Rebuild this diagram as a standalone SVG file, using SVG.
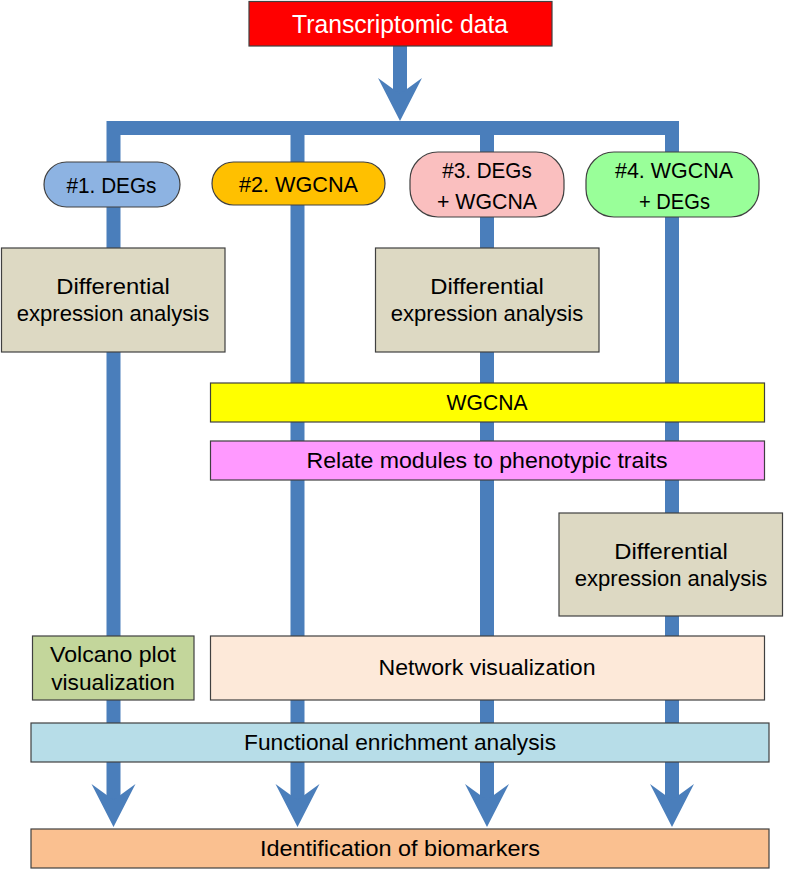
<svg xmlns="http://www.w3.org/2000/svg" width="786" height="870" viewBox="0 0 786 870">
<defs>
<style>
.box{stroke:#404040;stroke-width:1.2}
.t{font-family:"Liberation Sans",Arial,sans-serif;font-size:22px;fill:#000;text-anchor:middle;dominant-baseline:central}
.line{stroke:#4A7EBB;stroke-width:14;fill:none}
.head{fill:#4A7EBB}
</style>
</defs>
<rect width="786" height="870" fill="#fff"/>
<g id="connectors">
<line class="line" x1="400" y1="46" x2="400" y2="96"/>
<polygon class="head" points="378,78 400,121 422,78 400,94"/>
<path class="line" d="M113.5,128 H672"/>
<line class="line" x1="113.5" y1="121" x2="113.5" y2="800"/>
<line class="line" x1="297.5" y1="128" x2="297.5" y2="800"/>
<line class="line" x1="487" y1="128" x2="487" y2="800"/>
<line class="line" x1="672" y1="121" x2="672" y2="800"/>
<polygon class="head" points="91.5,784 113.5,827 135.5,784 113.5,800"/>
<polygon class="head" points="275.5,784 297.5,827 319.5,784 297.5,800"/>
<polygon class="head" points="465,784 487,827 509,784 487,800"/>
<polygon class="head" points="650,784 672,827 694,784 672,800"/>
</g>
<g id="transcriptomic">
<rect class="box" x="249" y="1.5" width="303" height="44.5" fill="#FF0000"/>
<text class="t" x="400" y="24" style="fill:#fff;font-size:25px" textLength="216" lengthAdjust="spacingAndGlyphs">Transcriptomic data</text>
</g>
<g id="n1">
<rect class="box" x="44" y="162" width="136" height="45" rx="22.5" fill="#8DB3E2"/>
<text class="t" x="111.5" y="185" textLength="90" lengthAdjust="spacingAndGlyphs">#1. DEGs</text>
</g>
<g id="n2">
<rect class="box" x="212" y="162" width="173" height="43" rx="21.5" fill="#FFC000"/>
<text class="t" x="298.5" y="184" textLength="119" lengthAdjust="spacingAndGlyphs">#2. WGCNA</text>
</g>
<g id="n3">
<rect class="box" x="410" y="152" width="154" height="65" rx="28" fill="#FABFBF"/>
<text class="t" x="487" y="170" textLength="89.5" lengthAdjust="spacingAndGlyphs">#3. DEGs</text>
<text class="t" x="487" y="201" textLength="100" lengthAdjust="spacingAndGlyphs">+ WGCNA</text>
</g>
<g id="n4">
<rect class="box" x="586" y="152" width="173" height="65" rx="28" fill="#99FF99"/>
<text class="t" x="674" y="170" textLength="118" lengthAdjust="spacingAndGlyphs">#4. WGCNA</text>
<text class="t" x="674.5" y="201" textLength="71" lengthAdjust="spacingAndGlyphs">+ DEGs</text>
</g>
<g id="dea1">
<rect class="box" x="1.5" y="248" width="223.5" height="104" fill="#DDD9C3"/>
<text class="t" x="113" y="286" textLength="113.5" lengthAdjust="spacingAndGlyphs">Differential</text>
<text class="t" x="113" y="313" textLength="192.5" lengthAdjust="spacingAndGlyphs">expression analysis</text>
</g>
<g id="dea2">
<rect class="box" x="375.5" y="248" width="223.5" height="104" fill="#DDD9C3"/>
<text class="t" x="487" y="286" textLength="113.5" lengthAdjust="spacingAndGlyphs">Differential</text>
<text class="t" x="487" y="313" textLength="192.5" lengthAdjust="spacingAndGlyphs">expression analysis</text>
</g>
<g id="wgcna">
<rect class="box" x="210.5" y="383" width="554" height="39" fill="#FFFF00"/>
<text class="t" x="487" y="402.5" textLength="81" lengthAdjust="spacingAndGlyphs">WGCNA</text>
</g>
<g id="relate">
<rect class="box" x="210.5" y="441" width="554" height="39" fill="#FF99FF"/>
<text class="t" x="487" y="460.5" textLength="361" lengthAdjust="spacingAndGlyphs">Relate modules to phenotypic traits</text>
</g>
<g id="dea3">
<rect class="box" x="559" y="513" width="223.5" height="103" fill="#DDD9C3"/>
<text class="t" x="671" y="551" textLength="113.5" lengthAdjust="spacingAndGlyphs">Differential</text>
<text class="t" x="671" y="578" textLength="192.5" lengthAdjust="spacingAndGlyphs">expression analysis</text>
</g>
<g id="volcano">
<rect class="box" x="32.5" y="636" width="161.5" height="64" fill="#C3D69B"/>
<text class="t" x="113" y="654" textLength="126" lengthAdjust="spacingAndGlyphs">Volcano plot</text>
<text class="t" x="113" y="682" textLength="123.5" lengthAdjust="spacingAndGlyphs">visualization</text>
</g>
<g id="network">
<rect class="box" x="210.5" y="636" width="554" height="64" fill="#FDE9D9"/>
<text class="t" x="487" y="667" textLength="217" lengthAdjust="spacingAndGlyphs">Network visualization</text>
</g>
<g id="functional">
<rect class="box" x="31" y="723" width="738" height="39" fill="#B7DDE8"/>
<text class="t" x="400" y="742.5" textLength="312" lengthAdjust="spacingAndGlyphs">Functional enrichment analysis</text>
</g>
<g id="identification">
<rect class="box" x="31" y="829" width="738" height="39" fill="#FAC090"/>
<text class="t" x="400" y="848.5" textLength="280" lengthAdjust="spacingAndGlyphs">Identification of biomarkers</text>
</g>
</svg>
